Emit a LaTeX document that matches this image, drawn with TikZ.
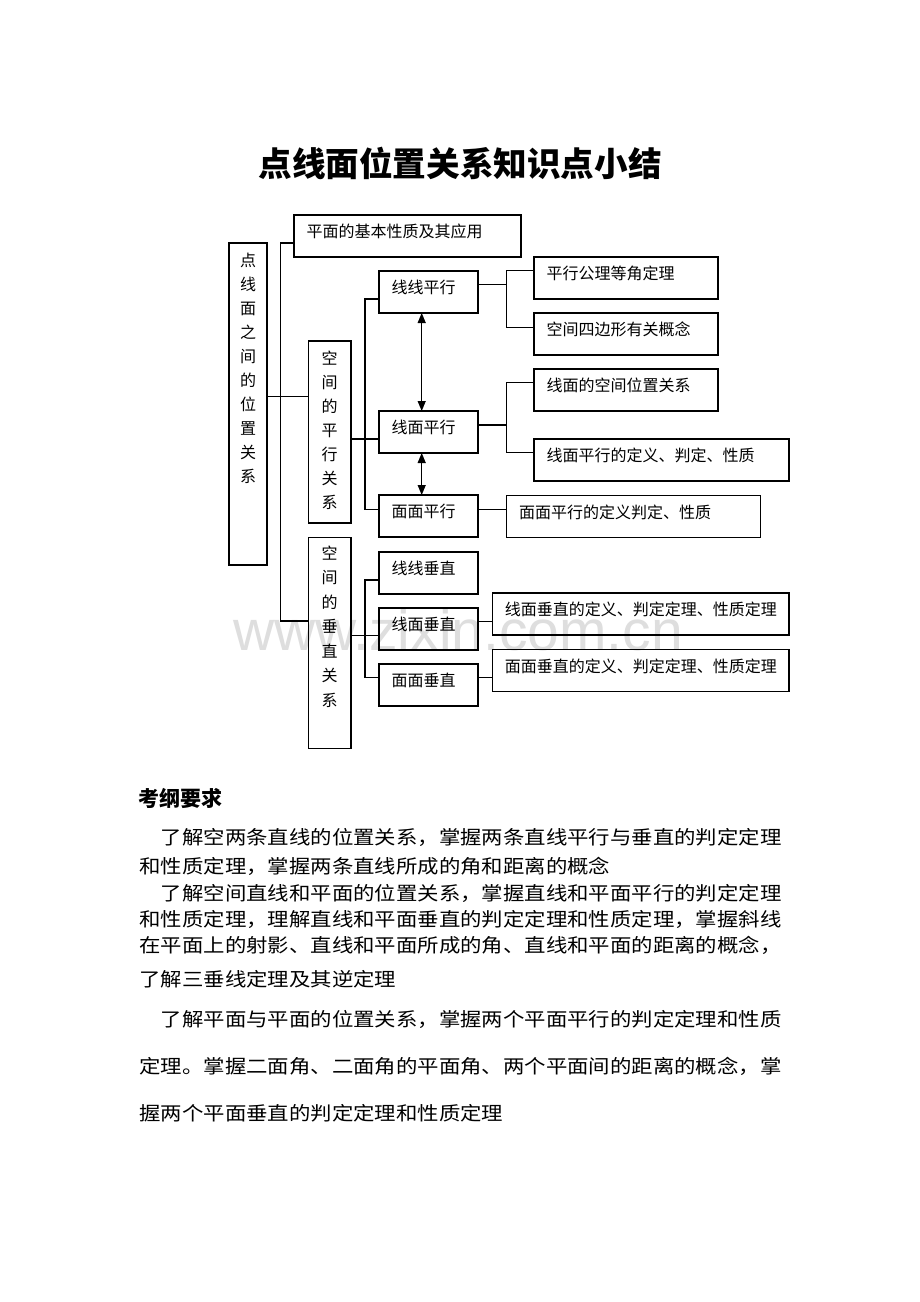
\documentclass[tikz,border=0pt]{standalone}
\usepackage{fontspec}
\usepackage{graphicx}
\setmainfont{Noto Sans CJK SC}
\newfontfamily\wmfont{Liberation Sans}
\usetikzlibrary{arrows.meta}
\newdimen\px \px=0.75pt
\newcommand\boxtxt[2]{\parbox[b][42\px][t]{#1\px}{\fontsize{12pt}{14pt}\selectfont\rule{0pt}{22.5\px}\hspace*{12.5\px}#2}}
\newcommand\vertxt[5]{\parbox[b][#2\px][t]{#1\px}{\centering\fontsize{12pt}{#4}\selectfont\rule{0pt}{#3\px}#5\par}}
\newcommand\bodyline[1]{\scalebox{1.1263}[1]{#1}}
\begin{document}
\begin{tikzpicture}[x=0.75pt,y=-0.75pt,
  bx/.style={draw, line width=0.9pt, anchor=north west, inner sep=0pt, outer sep=0pt},
  ln/.style={line width=0.9pt},
  dbl/.style={line width=0.9pt, {Triangle[length=7.5pt,width=6pt]}-{Triangle[length=7.5pt,width=6pt]}},
  body/.style={anchor=base west, inner sep=0pt, font=\fontsize{14.25pt}{16pt}\selectfont}]
\useasboundingbox (0,0) rectangle (920,1302);
\fill[white] (0,0) rectangle (920,1302);
% watermark
\node[anchor=base west, inner sep=0pt, text=black!13, font=\wmfont\fontsize{42.75pt}{44pt}\selectfont] (wm) at (233,650) {www.zixin.com.cn};
% title
\node[anchor=base, inner sep=0pt, font=\fontsize{25.2pt}{30pt}\selectfont\bfseries] (title) at (460,176) {点线面位置关系知识点小结};
% vertical boxes
\node[bx] (main) at (229,243) {\vertxt{38}{322}{23.8}{18pt}{点\\线\\面\\之\\间\\的\\位\\置\\关\\系}};
\node[bx] (pxgx) at (308.3,341) {\vertxt{42.7}{182}{23}{18pt}{空\\间\\的\\平\\行\\关\\系}};
\node[bx] (czgx) at (308.3,537.3) {\vertxt{42.7}{211}{22.1}{18.375pt}{空\\间\\的\\垂\\直\\关\\系}};
% horizontal boxes
\node[bx] (topb) at (294,215) {\boxtxt{227}{平面的基本性质及其应用}};
\node[bx] (xxpx) at (379,271) {\boxtxt{99}{线线平行}};
\node[bx] (xmpx) at (379,411) {\boxtxt{99}{线面平行}};
\node[bx] (mmpx) at (379,495) {\boxtxt{99}{面面平行}};
\node[bx] (pxgl) at (534,257) {\boxtxt{184}{平行公理等角定理}};
\node[bx] (kjsbx) at (534,313) {\boxtxt{184}{空间四边形有关概念}};
\node[bx] (xmkj) at (534,369) {\boxtxt{184}{线面的空间位置关系}};
\node[bx] (xmpxdy) at (534,439) {\boxtxt{255}{线面平行的定义、判定、性质}};
\node[bx] (mmpxdy) at (506.7,495.5) {\boxtxt{254}{面面平行的定义判定、性质}};
\node[bx] (xxcz) at (379,552) {\boxtxt{99}{线线垂直}};
\node[bx] (xmcz) at (379,608) {\boxtxt{99}{线面垂直}};
\node[bx] (mmcz) at (379,664) {\boxtxt{99}{面面垂直}};
\node[bx] (xmczdy) at (492.3,593) {\boxtxt{296.7}{线面垂直的定义、判定定理、性质定理}};
\node[bx] (mmczdy) at (492.3,649.5) {\boxtxt{296.7}{面面垂直的定义、判定定理、性质定理}};
% trunk
\coordinate (a1) at (280.7,243);
\coordinate (a2) at (280.7,621);
\coordinate (a3) at (280.7,396.7);
\draw[ln] (topb.west |- a1) -- (a1) -- (a2) -- (czgx.west |- a2);
\draw[ln] (main.east |- a3) -- (pxgx.west |- a3);
% parallel branch
\coordinate (b0) at (365,439);
\coordinate (b1) at (365,299);
\coordinate (b2) at (365,509.3);
\draw[ln] (pxgx.east |- b0) -- (xmpx.west |- b0);
\draw[ln] (xxpx.west |- b1) -- (b1) -- (b2) -- (mmpx.west |- b2);
\coordinate (c0) at (506.7,284.3);
\coordinate (c1) at (506.7,270.7);
\coordinate (c2) at (506.7,327.3);
\draw[ln] (xxpx.east |- c0) -- (c0);
\draw[ln] (pxgl.west |- c1) -- (c1) -- (c2) -- (kjsbx.west |- c2);
\coordinate (d0) at (506.7,425);
\coordinate (d1) at (506.7,382.7);
\coordinate (d2) at (506.7,452.7);
\draw[ln] (xmpx.east |- d0) -- (d0);
\draw[ln] (xmkj.west |- d1) -- (d1) -- (d2) -- (xmpxdy.west |- d2);
\coordinate (e0) at (0,509.3);
\draw[ln] (mmpx.east |- e0) -- (mmpxdy.west |- e0);
\coordinate (ax) at (421.7,0);
\draw[dbl] (xxpx.south -| ax) -- (xmpx.north -| ax);
\draw[dbl] (xmpx.south -| ax) -- (mmpx.north -| ax);
% perpendicular branch
\coordinate (f0) at (0,635.7);
\coordinate (f1) at (365,580);
\coordinate (f2) at (365,677.3);
\draw[ln] (czgx.east |- f0) -- (xmcz.west |- f0);
\draw[ln] (xxcz.west |- f1) -- (f1) -- (f2) -- (mmcz.west |- f2);
\coordinate (g1) at (0,621.7);
\coordinate (g2) at (0,677.7);
\draw[ln] (xmcz.east |- g1) -- (xmczdy.west |- g1);
\draw[ln] (mmcz.east |- g2) -- (mmczdy.west |- g2);
% text
\node[anchor=base west, inner sep=0pt, font=\fontsize{15.75pt}{18pt}\selectfont\bfseries] (kg) at (138,806) {考纲要求};
\node[body] (l1) at (160.7,844) {\bodyline{了解空两条直线的位置关系，掌握两条直线平行与垂直的判定定理}};
\node[body] (l2) at (139.3,873) {\bodyline{和性质定理，掌握两条直线所成的角和距离的概念}};
\node[body] (l3) at (160.7,900) {\bodyline{了解空间直线和平面的位置关系，掌握直线和平面平行的判定定理}};
\node[body] (l4) at (139.3,926) {\bodyline{和性质定理，理解直线和平面垂直的判定定理和性质定理，掌握斜线}};
\node[body] (l5) at (139.3,952) {\bodyline{在平面上的射影、直线和平面所成的角、直线和平面的距离的概念，}};
\node[body] (l6) at (139.3,986) {\bodyline{了解三垂线定理及其逆定理}};
\node[body] (l7) at (160.7,1026) {\bodyline{了解平面与平面的位置关系，掌握两个平面平行的判定定理和性质}};
\node[body] (l8) at (139.3,1073) {\bodyline{定理。掌握二面角、二面角的平面角、两个平面间的距离的概念，掌}};
\node[body] (l9) at (139.3,1120) {\bodyline{握两个平面垂直的判定定理和性质定理}};
\end{tikzpicture}
\end{document}
